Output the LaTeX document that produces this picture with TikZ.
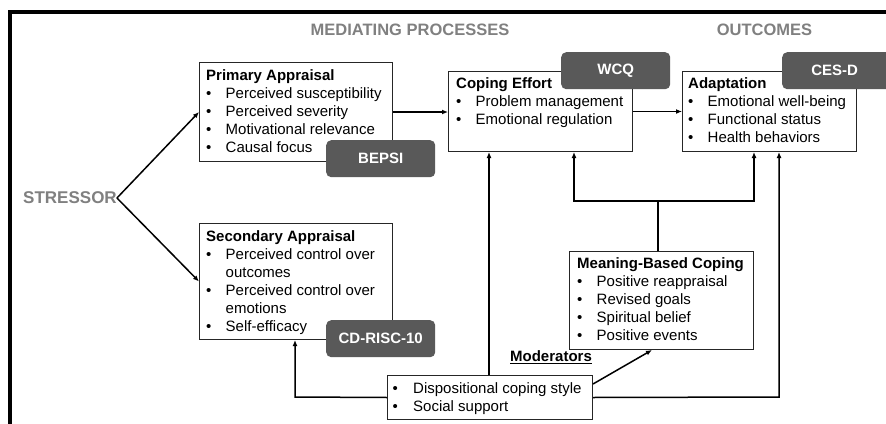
\documentclass[tikz,border=0pt]{standalone}
\usepackage{fontspec}
\setmainfont{Liberation Sans}
\usetikzlibrary{arrows.meta,calc}
\definecolor{badge}{RGB}{89,89,89}
\definecolor{headgray}{RGB}{128,128,128}
\newcommand{\bul}{\makebox[19.5pt][l]{\textbullet}}
\newcommand{\ind}{\hspace*{19.5pt}}
\begin{document}
\begin{tikzpicture}[x=1pt,y=-1pt,
  box/.style={draw=black!85,line width=1pt,fill=white,inner sep=0,anchor=north west},
  boxtext/.style={anchor=north west,inner sep=0,align=left,font=\fontsize{15}{18}\selectfont},
  badgebox/.style={fill=badge,rounded corners=5pt,text=white,font=\fontsize{15}{18}\selectfont\bfseries,inner sep=0,anchor=north west},
  head/.style={text=headgray,font=\fontsize{16.5}{20}\selectfont\bfseries,inner sep=0},
  conn/.style={line width=1.5pt,-{Latex[length=6pt,width=5pt]}},
  plainline/.style={line width=1.5pt}]
\useasboundingbox (0,0) rectangle (886,423);
\fill[white] (0,0) rectangle (886,423);

% frame
\draw[line width=4pt,line join=miter] (10,440) -- (10,12) -- (900,12);

% headers
\node[head] (hmed) at (410,30) {MEDIATING PROCESSES};
\node[head] (hout) at (764.5,30) {OUTCOMES};
\node[head,font=\fontsize{17}{20}\selectfont\bfseries] (st) at (70,198) {STRESSOR};

% boxes
\node[box,minimum width=193,minimum height=99] (pa) at (199,62) {};
\node[box,minimum width=193,minimum height=116] (sa) at (199,223) {};
\node[box,minimum width=184,minimum height=80] (ce) at (448,71) {};
\node[box,minimum width=174,minimum height=80] (ad) at (682,71) {};
\node[box,minimum width=184,minimum height=98] (mbc) at (569,251) {};
\node[box,minimum width=205,minimum height=44] (disp) at (387,375) {};

% box texts
\node[boxtext] (pat) at ($(pa.north west)+(7,7.5)$) {\textbf{Primary Appraisal}\\
 \bul Perceived susceptibility\\
 \bul Perceived severity\\
 \bul Motivational relevance\\
 \bul Causal focus};
\node[boxtext] (sat) at ($(sa.north west)+(7,7.5)$) {\textbf{Secondary Appraisal}\\
 \bul Perceived control over\\
 \ind outcomes\\
 \bul Perceived control over\\
 \ind emotions\\
 \bul Self-efficacy};
\node[boxtext] (cet) at ($(ce.north west)+(8,6.5)$) {\textbf{Coping Effort}\\
 \bul Problem management\\
 \bul Emotional regulation};
\node[boxtext] (adt) at ($(ad.north west)+(6,6.5)$) {\textbf{Adaptation}\\
 \bul Emotional well-being\\
 \bul Functional status\\
 \bul Health behaviors};
\node[boxtext] (mbct) at ($(mbc.north west)+(8,6.5)$) {\textbf{Meaning-Based Coping}\\
 \bul Positive reappraisal\\
 \bul Revised goals\\
 \bul Spiritual belief\\
 \bul Positive events};
\node[boxtext,font=\fontsize{15}{17.5}\selectfont] (dispt) at ($(disp.north west)+(5.5,7.5)$) {\makebox[20.5pt][l]{\textbullet}Dispositional coping style\\
 \makebox[20.5pt][l]{\textbullet}Social support};

% badges
\node[badgebox,minimum width=109,minimum height=37] (bepsi) at (326,140) {BEPSI};
\node[badgebox,minimum width=109,minimum height=37] (cdrisc) at (326,320) {CD-RISC-10};
\node[badgebox,minimum width=109,minimum height=37] (wcq) at (561,52) {WCQ};
\node[badgebox,minimum width=109,minimum height=37] (cesd) at (782,52) {\hspace*{-4pt}CES-D};

% moderators
\node[inner sep=0,font=\fontsize{15}{18}\selectfont\bfseries] (mod) at (551,357) {\underline{Moderators}};

% coordinates
\coordinate (cA) at (489,0);
\coordinate (jn) at (658,201);
\coordinate (cB) at (574,201);
\coordinate (cC) at (754,201);
\coordinate (cD) at (295,397);
\coordinate (cE) at (779,397);
\coordinate (cF) at (652,0);

% connectors
\draw[conn] (st.east) -- (pa.west);
\draw[conn] (st.east) -- (sa.west);
\draw[conn] (pa.east) -- (pa.east -| ce.west);
\draw[conn] (ce.east) -- (ad.west);
\draw[conn] (disp.north -| cA) -- (ce.south -| cA);
\draw[plainline] (mbc.north -| jn) -- (jn);
\draw[conn,line join=miter] (jn) -- (cB) -- (ce.south -| cB);
\draw[conn,line join=miter] (jn) -- (cC) -- (ad.south -| cC);
\draw[conn,line join=miter] (disp.west) -- (cD) -- (sa.south -| cD);
\draw[conn,line join=miter] (disp.east) -- (cE) -- (ad.south -| cE);
\draw[conn] ($(disp.north east)+(0,9)$) -- (mbc.south -| cF);
\end{tikzpicture}
\end{document}
